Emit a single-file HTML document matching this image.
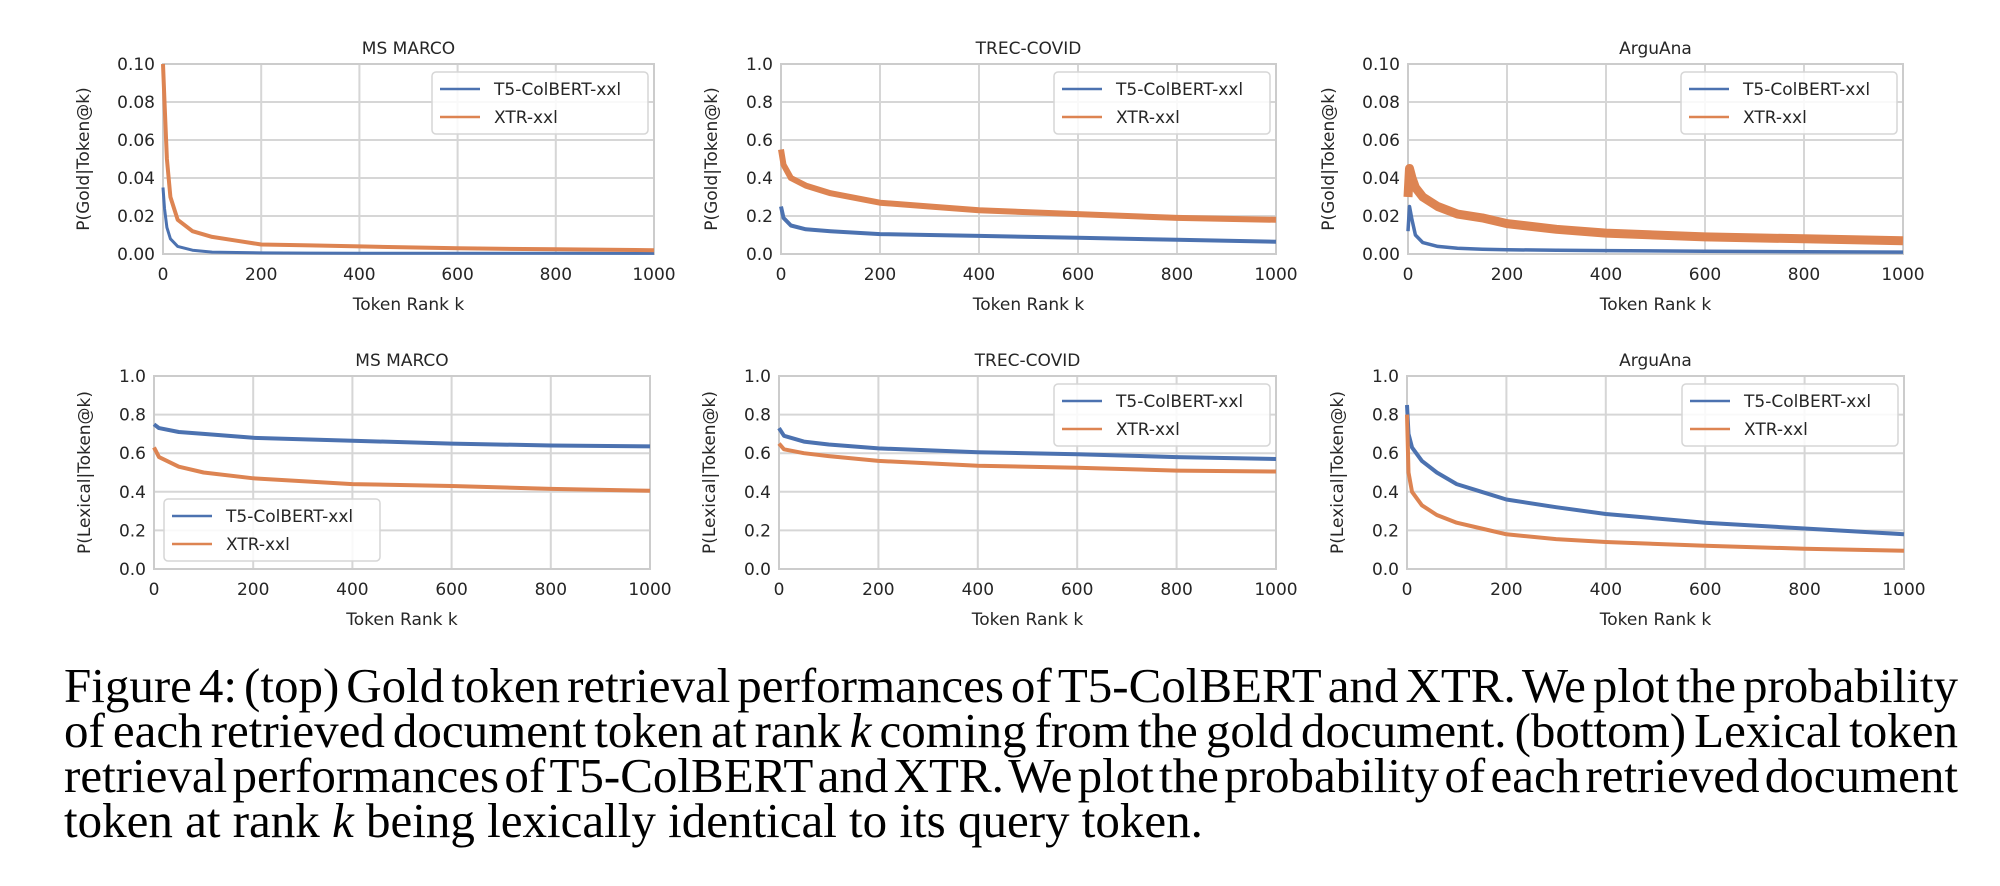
<!DOCTYPE html>
<html><head><meta charset="utf-8"><style>
body{margin:0;background:#fff;width:2000px;height:886px;overflow:hidden;position:relative}
svg{position:absolute;left:0;top:0}
#caption{position:absolute;left:64px;top:663px;width:1894px;font-family:"Liberation Serif",serif;font-size:49px;line-height:45px;color:#000}
#caption div{text-align:justify;text-align-last:justify;white-space:nowrap;word-spacing:-10px}
#caption div.last{text-align-last:left;word-spacing:0}
</style></head><body>
<svg id="fig" width="2000" height="660" font-family="DejaVu Sans, Liberation Sans, sans-serif"></svg>
<div id="caption">
<div>Figure 4: (top) Gold token retrieval performances of T5-ColBERT and XTR. We plot the probability</div>
<div>of each retrieved document token at rank <i>k</i> coming from the gold document. (bottom) Lexical token</div>
<div>retrieval performances of T5-ColBERT and XTR. We plot the probability of each retrieved document</div>
<div class="last">token at rank <i>k</i> being lexically identical to its query token.</div>
</div>
<script>
// Ranks at which values were read
const ranksA = [0,3,8,15,30,60,100,150,200,300,400,600,800,1000];
const ranksB = [0,5,20,50,100,200,300,400,600,800,1000];
const ranksC = [0,10,50,100,200,400,600,800,1000];
const ranksD = [0,3,10,30,60,100,150,200,300,400,600,800,1000];
// Top row: gold
const msGoldT5  = [0.035,0.024,0.014,0.008,0.004,0.002,0.001,0.0008,0.0006,0.0005,0.0004,0.0004,0.0004,0.0003];
const msGoldXTR = [0.1,0.08,0.05,0.03,0.018,0.012,0.009,0.007,0.005,0.0045,0.004,0.003,0.0025,0.002];
const tcGoldT5  = [0.25,0.19,0.15,0.13,0.12,0.105,0.1,0.095,0.085,0.075,0.065];
const tcGoldXTR = [0.55,0.47,0.4,0.36,0.32,0.27,0.25,0.23,0.21,0.19,0.18];
const arGoldT5  = [0.012,0.025,0.018,0.01,0.006,0.004,0.003,0.0025,0.0022,0.002,0.0018,0.0015,0.0012,0.001];
const arGoldXTR = [0.03,0.045,0.04,0.035,0.03,0.025,0.021,0.019,0.016,0.013,0.011,0.009,0.008,0.007];
// Bottom row: lexical
const msLexT5  = [0.75,0.73,0.71,0.70,0.68,0.665,0.65,0.64,0.635];
const msLexXTR = [0.63,0.58,0.53,0.50,0.47,0.44,0.43,0.415,0.405];
const tcLexT5  = [0.73,0.69,0.66,0.645,0.625,0.605,0.595,0.58,0.57];
const tcLexXTR = [0.65,0.62,0.60,0.585,0.56,0.535,0.525,0.51,0.505];
const arLexT5  = [0.85,0.7,0.63,0.56,0.5,0.44,0.4,0.36,0.32,0.285,0.24,0.21,0.18];
const arLexXTR = [0.8,0.5,0.4,0.33,0.28,0.24,0.21,0.18,0.155,0.14,0.12,0.105,0.095];
const xTicks = [0,200,400,600,800,1000];
const yTicksSmall = ["0.00","0.02","0.04","0.06","0.08","0.10"];
const yTicksBig = ["0.0","0.2","0.4","0.6","0.8","1.0"];
const legendNames = ["T5-ColBERT-xxl","XTR-xxl"];

const NS="http://www.w3.org/2000/svg";
const svg=document.getElementById('fig');
const BLUE="#4c72b0", ORANGE="#dd8452", TXT="#262626";
function mk(tag,attrs,parent){const e=document.createElementNS(NS,tag);for(const k in attrs)e.setAttribute(k,attrs[k]);(parent||svg).appendChild(e);return e;}

const panels=[
 {title:"MS MARCO",ylab:"P(Gold|Token@k)",x0:163,x1:654,y0:64,y1:254,ymax:0.1,ticks:yTicksSmall,leg:"ur",s:[[ranksA,msGoldT5,BLUE,3],[ranksA,msGoldXTR,ORANGE,4]]},
 {title:"TREC-COVID",ylab:"P(Gold|Token@k)",x0:781,x1:1276,y0:64,y1:254,ymax:1,ticks:yTicksBig,leg:"ur",s:[[ranksB,tcGoldT5,BLUE,4],[ranksB,tcGoldXTR,ORANGE,6]]},
 {title:"ArguAna",ylab:"P(Gold|Token@k)",x0:1408,x1:1903,y0:64,y1:254,ymax:0.1,ticks:yTicksSmall,leg:"ur",s:[[ranksA,arGoldT5,BLUE,3.5],[ranksA,arGoldXTR,ORANGE,9]]},
 {title:"MS MARCO",ylab:"P(Lexical|Token@k)",x0:154,x1:650,y0:376,y1:569,ymax:1,ticks:yTicksBig,leg:"ll",s:[[ranksC,msLexT5,BLUE,4],[ranksC,msLexXTR,ORANGE,4]]},
 {title:"TREC-COVID",ylab:"P(Lexical|Token@k)",x0:779,x1:1276,y0:376,y1:569,ymax:1,ticks:yTicksBig,leg:"ur",s:[[ranksC,tcLexT5,BLUE,4],[ranksC,tcLexXTR,ORANGE,4]]},
 {title:"ArguAna",ylab:"P(Lexical|Token@k)",x0:1407,x1:1904,y0:376,y1:569,ymax:1,ticks:yTicksBig,leg:"ur",s:[[ranksD,arLexT5,BLUE,4],[ranksD,arLexXTR,ORANGE,4]]}
];

panels.forEach((p,i)=>{
  const g=mk('g',{});
  
  
  const xs=v=>p.x0+(v/1000)*(p.x1-p.x0);
  const ys=v=>p.y1-(v/p.ymax)*(p.y1-p.y0);
  xTicks.forEach(t=>{
    const l=mk('line',{x1:xs(t),x2:xs(t),y1:p.y0,y2:p.y1,stroke:"#d6d6d6","stroke-width":2},g);
    
    
    const tx=mk('text',{x:xs(t),y:p.y1+26,"text-anchor":"middle","font-size":17,fill:TXT},g);
    tx.textContent=t;
    
    
  });
  p.ticks.forEach((t,j)=>{
    const v=parseFloat(t);
    const l=mk('line',{x1:p.x0,x2:p.x1,y1:ys(v),y2:ys(v),stroke:"#d6d6d6","stroke-width":2},g);
    
    
    const tx=mk('text',{x:p.x0-8,y:ys(v)+6,"text-anchor":"end","font-size":17,fill:TXT},g);
    tx.textContent=t;
    
    
  });
  const fr=mk('rect',{x:p.x0,y:p.y0,width:p.x1-p.x0,height:p.y1-p.y0,fill:"none",stroke:"#cccccc","stroke-width":2},g);
  
  
  p.s.forEach((s,k)=>{
    const pts=s[0].map((r,j)=>xs(r).toFixed(1)+","+ys(s[1][j]).toFixed(1)).join(" ");
    const pl=mk('polyline',{points:pts,fill:"none",stroke:s[2],"stroke-width":s[3],"stroke-linejoin":"round"},g);
    
    
  });
  const ti=mk('text',{x:(p.x0+p.x1)/2,y:p.y0-10,"text-anchor":"middle","font-size":17,fill:TXT},g);
  ti.textContent=p.title;
  
  
  const xl=mk('text',{x:(p.x0+p.x1)/2,y:p.y1+56,"text-anchor":"middle","font-size":17,fill:TXT},g);
  xl.textContent="Token Rank k";
  
  
  const lx=p.x0-(p.ymax<1?74:64), ly=(p.y0+p.y1)/2;
  const yl=mk('text',{x:lx,y:ly,"text-anchor":"middle","font-size":17,fill:TXT,transform:`rotate(-90 ${lx} ${ly})`},g);
  yl.textContent=p.ylab;
  
  
  const bw=216,bh=62;
  const bx=p.leg==="ur"?p.x1-6-bw:p.x0+10;
  const by=p.leg==="ur"?p.y0+8:p.y1-8-bh;
  const lg=mk('g',{},g);
  
  
  mk('rect',{x:bx,y:by,width:bw,height:bh,rx:4,fill:"#fff","fill-opacity":0.85,stroke:"#d6d6d6","stroke-width":1.5},lg);
  legendNames.forEach((n,j)=>{
    const yy=by+17+j*28;
    const e=mk('g',{},lg);
    
    
    mk('line',{x1:bx+8,x2:bx+48,y1:yy,y2:yy,stroke:j?ORANGE:BLUE,"stroke-width":2.5},e);
    const t=mk('text',{x:bx+62,y:yy+6,"font-size":17,fill:TXT},e);
    t.textContent=n;
  });
});
</script>
</body></html>
